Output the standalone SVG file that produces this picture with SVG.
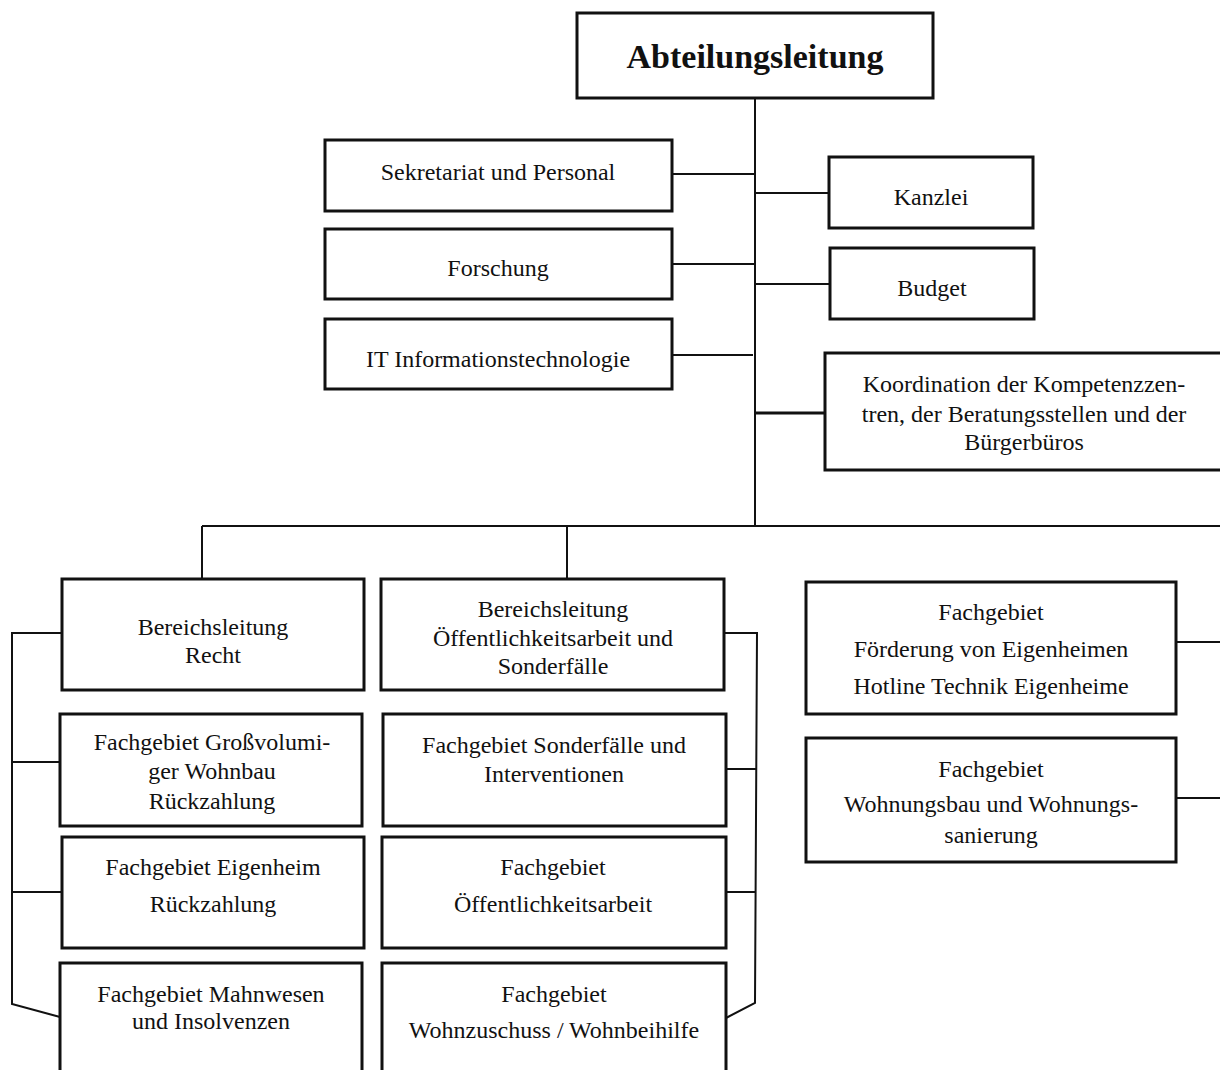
<svg xmlns="http://www.w3.org/2000/svg" width="1220" height="1070" viewBox="0 0 1220 1070">
<style>
.box{fill:#fff;stroke:#111;stroke-width:3}
.ln{fill:none;stroke:#111;stroke-width:2}
.thick{stroke-width:3}
text{font-family:"Liberation Serif","Times New Roman",serif;font-size:24px;fill:#111;text-anchor:middle}
.title{font-size:34px;font-weight:bold}
</style>
<rect width="1220" height="1070" fill="#fff"/>
<g id="connectors">
<line class="ln" x1="755" y1="98" x2="755" y2="526"/>
<line class="ln" x1="672" y1="174" x2="755" y2="174"/>
<line class="ln" x1="672" y1="264" x2="755" y2="264"/>
<line class="ln" x1="672" y1="355" x2="753" y2="355"/>
<line class="ln" x1="755" y1="193" x2="829" y2="193"/>
<line class="ln" x1="755" y1="284" x2="830" y2="284"/>
<line class="ln thick" x1="755" y1="413" x2="825" y2="413"/>
<line class="ln" x1="202" y1="526" x2="1220" y2="526"/>
<line class="ln" x1="202" y1="526" x2="202" y2="579"/>
<line class="ln" x1="567" y1="526" x2="567" y2="579"/>
<polyline class="ln" points="62,633 12,633 12,1004 60,1017"/>
<line class="ln" x1="12" y1="762" x2="60" y2="762"/>
<line class="ln" x1="12" y1="892" x2="62" y2="892"/>
<polyline class="ln" points="724,633 757,633 755,1003 726,1018"/>
<line class="ln" x1="725" y1="769" x2="756" y2="769"/>
<line class="ln" x1="726" y1="892" x2="756" y2="892"/>
<line class="ln" x1="1176" y1="642" x2="1220" y2="642"/>
<line class="ln" x1="1176" y1="798" x2="1220" y2="798"/>
</g>
<g id="abteilungsleitung"><rect class="box" x="577" y="13" width="356" height="85"/><text class="title" x="755" y="68">Abteilungsleitung</text></g>
<g id="sekretariat"><rect class="box" x="325" y="140" width="347" height="71"/><text x="498" y="180">Sekretariat und Personal</text></g>
<g id="forschung"><rect class="box" x="325" y="229" width="347" height="70"/><text x="498" y="276">Forschung</text></g>
<g id="it"><rect class="box" x="325" y="319" width="347" height="70"/><text x="498" y="367">IT Informationstechnologie</text></g>
<g id="kanzlei"><rect class="box" x="829" y="157" width="204" height="71"/><text x="931" y="205">Kanzlei</text></g>
<g id="budget"><rect class="box" x="830" y="248" width="204" height="71"/><text x="932" y="296">Budget</text></g>
<g id="koordination"><rect class="box" x="825" y="353" width="400" height="117"/><text x="1024" y="392">Koordination der Kompetenzzen-</text><text x="1024" y="422">tren, der Beratungsstellen und der</text><text x="1024" y="450">Bürgerbüros</text></g>
<g id="bl-recht"><rect class="box" x="62" y="579" width="302" height="111"/><text x="213" y="635">Bereichsleitung</text><text x="213" y="663">Recht</text></g>
<g id="bl-oeffentlichkeit"><rect class="box" x="381" y="579" width="343" height="111"/><text x="553" y="617">Bereichsleitung</text><text x="553" y="646">Öffentlichkeitsarbeit und</text><text x="553" y="674">Sonderfälle</text></g>
<g id="fg-grossvolumig"><rect class="box" x="60" y="714" width="302" height="112"/><text x="212" y="750">Fachgebiet Großvolumi-</text><text x="212" y="779">ger Wohnbau</text><text x="212" y="809">Rückzahlung</text></g>
<g id="fg-sonderfaelle"><rect class="box" x="383" y="714" width="343" height="112"/><text x="554" y="753">Fachgebiet Sonderfälle und</text><text x="554" y="782">Interventionen</text></g>
<g id="fg-eigenheim"><rect class="box" x="62" y="837" width="302" height="111"/><text x="213" y="875">Fachgebiet Eigenheim</text><text x="213" y="912">Rückzahlung</text></g>
<g id="fg-oeffentlichkeit"><rect class="box" x="382" y="837" width="344" height="111"/><text x="553" y="875">Fachgebiet</text><text x="553" y="912">Öffentlichkeitsarbeit</text></g>
<g id="fg-mahnwesen"><rect class="box" x="60" y="963" width="302" height="120"/><text x="211" y="1002">Fachgebiet Mahnwesen</text><text x="211" y="1029">und Insolvenzen</text></g>
<g id="fg-wohnzuschuss"><rect class="box" x="382" y="963" width="344" height="120"/><text x="554" y="1002">Fachgebiet</text><text x="554" y="1038">Wohnzuschuss / Wohnbeihilfe</text></g>
<g id="fg-foerderung"><rect class="box" x="806" y="582" width="370" height="132"/><text x="991" y="620">Fachgebiet</text><text x="991" y="657">Förderung von Eigenheimen</text><text x="991" y="694">Hotline Technik Eigenheime</text></g>
<g id="fg-wohnungsbau"><rect class="box" x="806" y="738" width="370" height="124"/><text x="991" y="777">Fachgebiet</text><text x="991" y="812">Wohnungsbau und Wohnungs-</text><text x="991" y="843">sanierung</text></g>
</svg>
